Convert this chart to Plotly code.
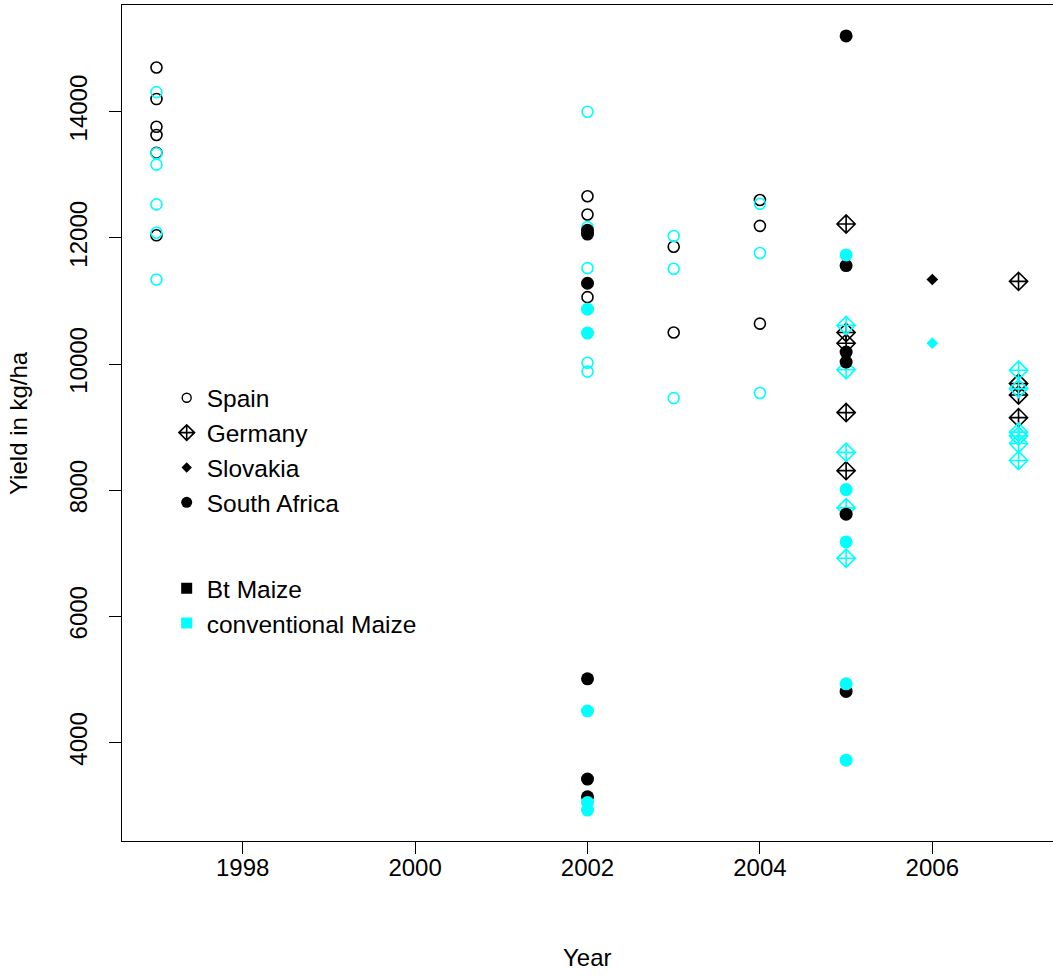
import plotly.graph_objects as go

# ---- data ----
spain_bt_year = [1997, 1997, 1997, 1997, 1997, 1997, 2002, 2002, 2002, 2003, 2003, 2004, 2004, 2004]
spain_bt_yield = [14700, 14200, 13760, 13630, 13350, 12040, 12660, 12370, 11060, 11860, 10500, 12600, 12190, 10640]

spain_conv_year = [1997, 1997, 1997, 1997, 1997, 1997, 2002, 2002, 2002, 2002, 2002, 2003, 2003, 2003, 2004, 2004, 2004]
spain_conv_yield = [14310, 13340, 13160, 12530, 12080, 11340, 14000, 12170, 11520, 10020, 9880, 12030, 11510, 9460, 12540, 11760, 9540]

germany_bt_year = [2005, 2005, 2005, 2005, 2005, 2007, 2007, 2007, 2007]
germany_bt_yield = [12220, 10500, 10330, 9230, 8310, 11310, 9690, 9510, 9150]

germany_conv_year = [2005, 2005, 2005, 2005, 2005, 2007, 2007, 2007, 2007, 2007, 2007]
germany_conv_yield = [10610, 9910, 8600, 7720, 6920, 9900, 9610, 8920, 8860, 8740, 8470]

slovakia_bt_year = [2006]
slovakia_bt_yield = [11340]
slovakia_conv_year = [2006]
slovakia_conv_yield = [10330]

safrica_bt_year = [2002, 2002, 2002, 2002, 2002, 2002, 2005, 2005, 2005, 2005, 2005, 2005]
safrica_bt_yield = [12120, 12060, 11280, 5010, 3420, 3140, 15200, 11560, 10190, 10030, 7620, 4810]

safrica_conv_year = [2002, 2002, 2002, 2002, 2002, 2005, 2005, 2005, 2005, 2005]
safrica_conv_yield = [10870, 10490, 4500, 3050, 2930, 11730, 8010, 7180, 4930, 3720]

x_ticks = [1998, 2000, 2002, 2004, 2006]
y_ticks = [4000, 6000, 8000, 10000, 12000, 14000]

country_labels = ["Spain", "Germany", "Slovakia", "South Africa"]
maize_labels = ["Bt Maize", "conventional Maize"]

BT = "#000000"
CONV = "#00FFFF"
FONT = "Liberation Sans, Arial, sans-serif"

fig = go.Figure()

def add(xs, ys, symbol, color, size, lw=1.6):
    fig.add_trace(go.Scatter(
        x=xs, y=ys, mode="markers", showlegend=False, hoverinfo="x+y",
        marker=dict(symbol=symbol, color=color, size=size,
                    line=dict(color=color, width=lw)),
    ))

add(spain_bt_year, spain_bt_yield, "circle-open", BT, 11)
add(spain_conv_year, spain_conv_yield, "circle-open", CONV, 11)
add(germany_bt_year, germany_bt_yield, "diamond-cross-open", BT, 14)
add(germany_conv_year, germany_conv_yield, "diamond-cross-open", CONV, 14)
add(slovakia_bt_year, slovakia_bt_yield, "diamond", BT, 9, 0)
add(slovakia_conv_year, slovakia_conv_yield, "diamond", CONV, 9, 0)
add(safrica_bt_year, safrica_bt_yield, "circle", BT, 13, 0)
add(safrica_conv_year, safrica_conv_yield, "circle", CONV, 13, 0)

# legend-only entries
legend_specs = [
    (country_labels[0], "circle-open", BT, 9, 1.4, "c"),
    (country_labels[1], "diamond-cross-open", BT, 12, 1.6, "c"),
    (country_labels[2], "diamond", BT, 8, 0, "c"),
    (country_labels[3], "circle", BT, 11, 0, "c"),
    (maize_labels[0], "square", BT, 11, 0, "m"),
    (maize_labels[1], "square", CONV, 11, 0, "m"),
]
for name, sym, col, sz, lw, grp in legend_specs:
    fig.add_trace(go.Scatter(
        x=[None], y=[None], mode="markers", name=name, legendgroup=grp,
        marker=dict(symbol=sym, color=col, size=sz, line=dict(color=col, width=lw)),
    ))

fig.update_layout(
    width=1053, height=976,
    margin=dict(l=122, r=0, t=5, b=135),
    paper_bgcolor="white", plot_bgcolor="white",
    font=dict(family=FONT, size=24, color="black"),
    showlegend=True,
    legend=dict(
        x=0.048, y=0.557, xanchor="left", yanchor="top",
        bgcolor="rgba(0,0,0,0)", borderwidth=0,
        font=dict(family=FONT, size=24.5, color="black"),
        tracegroupgap=51, itemsizing="trace",
    ),
    xaxis=dict(
        range=[1996.6, 2007.4], tickmode="array", tickvals=x_ticks,
        ticktext=[str(v) for v in x_ticks],
        showgrid=False, zeroline=False, showline=True, mirror=True,
        linecolor="black", linewidth=1.2, ticks="outside", ticklen=12,
        tickcolor="black", tickwidth=1.2, ticklabelstandoff=-7,
    ),
    yaxis=dict(
        range=[2439, 15691], tickmode="array", tickvals=y_ticks,
        ticktext=[str(v) for v in y_ticks], tickangle=-90,
        showgrid=False, zeroline=False, showline=True, mirror=True,
        linecolor="black", linewidth=1.2, ticks="outside", ticklen=12,
        tickcolor="black", tickwidth=1.2, ticklabelstandoff=12,
    ),
    annotations=[
        dict(text="Year", xref="paper", yref="paper", x=0.5, y=0,
             xanchor="center", yanchor="middle", yshift=-116, showarrow=False,
             font=dict(family=FONT, size=24, color="black")),
        dict(text="Yield in kg/ha", xref="paper", yref="paper", x=0, y=0.5,
             xanchor="center", yanchor="middle", xshift=-104, textangle=-90,
             showarrow=False, font=dict(family=FONT, size=24, color="black")),
    ],
)

fig.write_html("out.html", config={"displayModeBar": False},
               post_script="document.body.style.margin='0';")
